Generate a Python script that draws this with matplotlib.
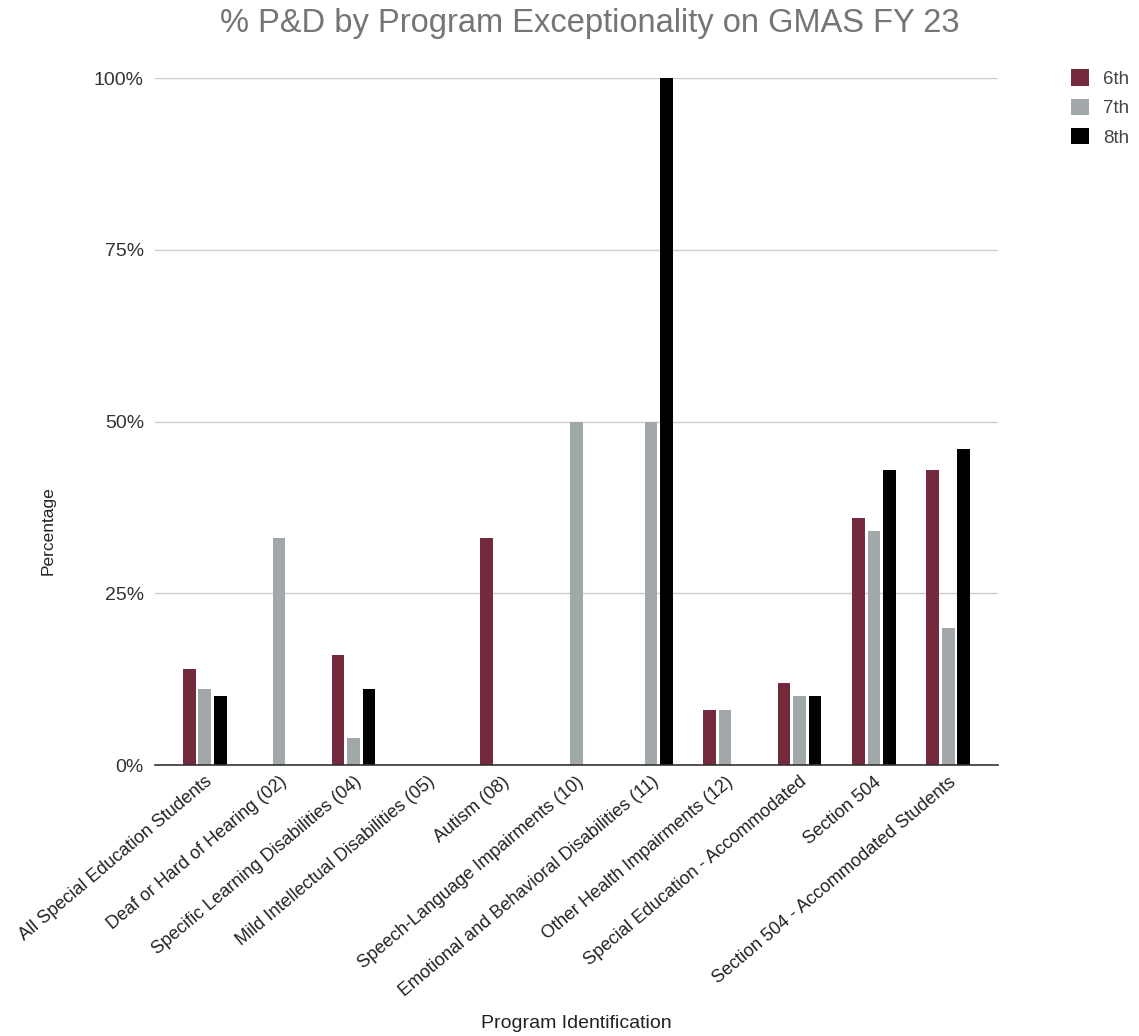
import numpy as np
import matplotlib
matplotlib.use("Agg")
import matplotlib.pyplot as plt
from matplotlib.ticker import PercentFormatter

plt.rcParams['font.family'] = ['Liberation Sans', 'DejaVu Sans']

programs = [
    "All Special Education Students",
    "Deaf or Hard of Hearing (02)",
    "Specific Learning Disabilities (04)",
    "Mild Intellectual Disabilities (05)",
    "Autism (08)",
    "Speech-Language Impairments (10)",
    "Emotional and Behavioral Disabilities (11)",
    "Other Health Impairments (12)",
    "Special Education - Accommodated",
    "Section 504",
    "Section 504 - Accommodated Students",
]
grade_6 = [14, 0, 16, 0, 33, 0, 0, 8, 12, 36, 43]
grade_7 = [11, 33, 4, 0, 0, 50, 50, 8, 10, 34, 20]
grade_8 = [10, 0, 11, 0, 0, 0, 100, 0, 10, 43, 46]
series = [("6th", grade_6, "#742a3d"), ("7th", grade_7, "#a2a8aa"), ("8th", grade_8, "#000000")]

fig = plt.figure(figsize=(11.39, 10.36), dpi=100)
ax = fig.add_axes([155/1139, 1 - 765/1036, 843/1139, 687/1036])

x = np.arange(len(programs))
w = 0.17
step = 0.21
for k, (name, vals, col) in enumerate(series):
    ax.bar(x + (k - 1)*step, vals, w, color=col, label=name, zorder=3)

ax.set_ylim(0, 100)
ax.set_xlim(-0.67, len(programs) - 0.33)
ax.set_yticks([0, 25, 50, 75, 100])
ax.yaxis.set_major_formatter(PercentFormatter(decimals=0))
ax.grid(axis="y", color="#cccccc", linewidth=1, zorder=0)
for s in ["top", "right", "left"]:
    ax.spines[s].set_visible(False)
ax.spines["bottom"].set_color("#333333")
ax.spines["bottom"].set_linewidth(1.2)
ax.spines["bottom"].set_zorder(4)
ax.tick_params(axis="y", length=0, pad=8, labelsize=14, labelcolor="#333333")
ax.tick_params(axis="x", length=0, pad=6)
ax.set_xticks(x)
ax.set_xticklabels(programs, rotation=40, ha="right", rotation_mode="anchor",
                   fontsize=13, color="#222222")

fig.text(0.518, 0.977, "% P&D by Program Exceptionality on GMAS FY 23",
         ha="center", va="center", fontsize=23.5, color="#757575")
fig.text(0.506, 0.012, "Program Identification", ha="center", va="center",
         fontsize=14, color="#222222")
fig.text(0.042, 0.4875, "Percentage", ha="center", va="center", rotation=90,
         fontsize=12.5, color="#222222")

ax.legend(loc="upper left", bbox_to_anchor=(1.066, 1.037), frameon=False,
          fontsize=13.5, labelcolor="#444444", handlelength=1.0, handleheight=1.0,
          labelspacing=0.55, handletextpad=0.75)

fig.savefig("out.png", dpi=100, facecolor="white")
